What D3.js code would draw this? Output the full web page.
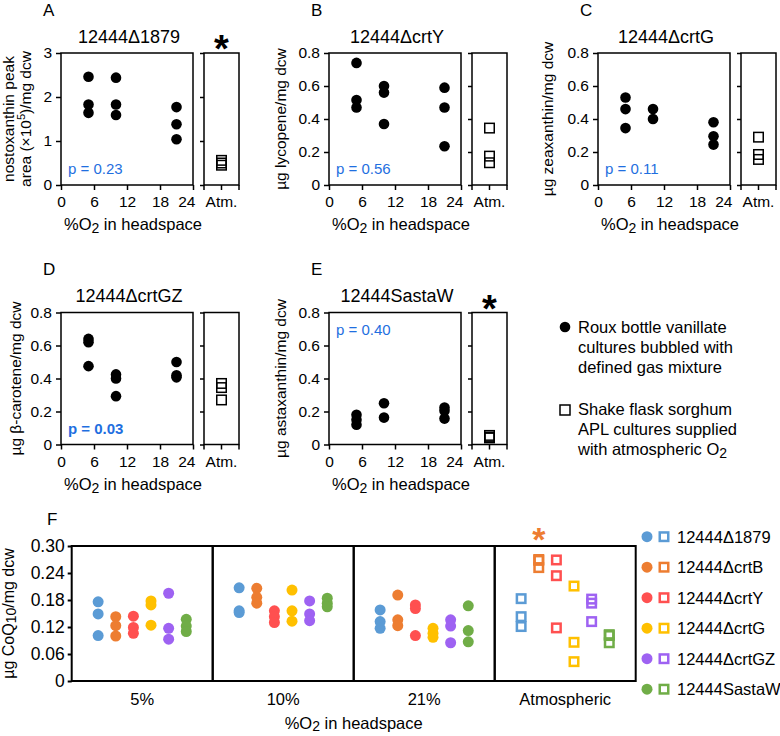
<!DOCTYPE html>
<html><head><meta charset="utf-8">
<script src="https://cdn.jsdelivr.net/npm/d3@7"></script>
<style>body{margin:0;background:#fff} svg{display:block}</style>
</head><body><svg id="c" width="780" height="736"></svg>
<script>
// ---------------- data ----------------
const o2Levels = [5, 10, 21];
const xTicks = [0, 6, 12, 18, 24];
const nostoxanthin = [[2.46, 1.83, 1.64], [2.44, 1.83, 1.59], [1.77, 1.38, 1.04]];
const nostoxanthinAtm = [0.56, 0.50, 0.45];
const lycopene = [[0.74, 0.515, 0.47], [0.60, 0.56, 0.37], [0.59, 0.47, 0.235]];
const lycopeneAtm = [0.345, 0.175, 0.135];
const zeaxanthin = [[0.53, 0.46, 0.345], [0.46, 0.40], [0.38, 0.295, 0.245]];
const zeaxanthinAtm = [0.29, 0.185, 0.155];
const betaCarotene = [[0.64, 0.62, 0.475], [0.425, 0.40, 0.293], [0.50, 0.42, 0.407]];
const betaCaroteneAtm = [0.37, 0.345, 0.27];
const astaxanthin = [[0.18, 0.15, 0.12], [0.25, 0.163], [0.224, 0.204, 0.157]];
const astaxanthinAtm = [0.055, 0.045, 0.04];
const pValues = ["p = 0.23", "p = 0.56", "p = 0.11", "p = 0.03", "p = 0.40"];
const panelTitles = ["12444Δ1879", "12444ΔcrtY", "12444ΔcrtG", "12444ΔcrtGZ", "12444SastaW"];
const panelLetters = ["A", "B", "C", "D", "E"];
const yLabels = [null, "µg lycopene/mg dcw", "µg zeaxanthin/mg dcw", "µg β-carotene/mg dcw", "µg astaxanthin/mg dcw"];

const strains = ["12444Δ1879", "12444ΔcrtB", "12444ΔcrtY", "12444ΔcrtG", "12444ΔcrtGZ", "12444SastaW"];
const fCategories = ["5%", "10%", "21%", "Atmospheric"];
const coq5 = [[0.176, 0.149, 0.101], [0.143, 0.123, 0.100], [0.144, 0.119, 0.106], [0.178, 0.169, 0.124], [0.195, 0.117, 0.093], [0.137, 0.122, 0.110]];
const coq10 = [[0.207, 0.156, 0.152], [0.206, 0.186, 0.173], [0.156, 0.143, 0.130], [0.202, 0.156, 0.133], [0.178, 0.149, 0.134], [0.184, 0.173, 0.165]];
const coq21 = [[0.158, 0.132, 0.117], [0.191, 0.136, 0.123], [0.169, 0.161, 0.101], [0.117, 0.106, 0.097], [0.136, 0.122, 0.085], [0.167, 0.112, 0.087]];
const coqAtm = [[0.183, 0.143, 0.121], [0.270, 0.268, 0.252], [0.269, 0.234, 0.118], [0.211, 0.086, 0.043], [0.182, 0.173, 0.132], [0.103, 0.101, 0.085]];
const fYTicks = [0, 0.06, 0.12, 0.18, 0.24, 0.30];

// ---------------- style ----------------
const FONT = '"Liberation Sans", Arial, Helvetica, sans-serif';
const pBlue = "#1F6FE0";
const strainColors = ["#5B9BD5", "#ED7D31", "#FF5050", "#FFC000", "#9E62F2", "#70AD47"];

const svg = d3.select("#c").attr("font-family", FONT);

const boxW = 132, boxH = 132, atmOff = 143, atmW = 35;

const panels = [
  {left: 61, top: 53, yMax: 3, yTicks: [0, 1, 2, 3], fmt: d => d3.format("d")(d), vals: nostoxanthin, atm: nostoxanthinAtm, pTop: false, pBold: false, star: true, ylabOff: 43},
  {left: 329, top: 53, yMax: 0.8, yTicks: [0, 0.2, 0.4, 0.6, 0.8], fmt: d => d === 0 ? "0" : d.toFixed(1), vals: lycopene, atm: lycopeneAtm, pTop: false, pBold: false, star: false, ylabOff: 43},
  {left: 598, top: 53, yMax: 0.8, yTicks: [0, 0.2, 0.4, 0.6, 0.8], fmt: d => d === 0 ? "0" : d.toFixed(1), vals: zeaxanthin, atm: zeaxanthinAtm, pTop: false, pBold: false, star: false, ylabOff: 45},
  {left: 61, top: 312.5, yMax: 0.8, yTicks: [0, 0.2, 0.4, 0.6, 0.8], fmt: d => d === 0 ? "0" : d.toFixed(1), vals: betaCarotene, atm: betaCaroteneAtm, pTop: false, pBold: true, star: false, ylabOff: 40},
  {left: 329, top: 312.5, yMax: 0.8, yTicks: [0, 0.2, 0.4, 0.6, 0.8], fmt: d => d === 0 ? "0" : d.toFixed(1), vals: astaxanthin, atm: astaxanthinAtm, pTop: true, pBold: false, star: true, ylabOff: 43}
];

function o2Title(sel, x, y, size, sub) {
  const t = sel.append("text").attr("x", x).attr("y", y).attr("text-anchor", "middle")
    .attr("font-size", size).attr("fill", "#000");
  t.append("tspan").text("%O");
  t.append("tspan").attr("dy", sub).attr("font-size", size * 0.85).text("2");
  t.append("tspan").attr("dy", -sub).text(" in headspace");
}

panels.forEach((cfg, k) => {
  const g = svg.append("g");
  const bottom = cfg.top + boxH;
  const x = d3.scaleLinear().domain([0, 24]).range([cfg.left, cfg.left + boxW]);
  const y = d3.scaleLinear().domain([0, cfg.yMax]).range([bottom, cfg.top]);

  // main box
  g.append("rect").attr("x", cfg.left).attr("y", cfg.top).attr("width", boxW).attr("height", boxH)
    .attr("fill", "none").attr("stroke", "#000").attr("stroke-width", 1.5);
  // y axis
  const ya = g.append("g").attr("transform", `translate(${cfg.left},0)`)
    .call(d3.axisLeft(y).tickValues(cfg.yTicks).tickFormat(cfg.fmt).tickSize(5).tickPadding(4));
  ya.attr("font-size", 15.5).attr("font-family", FONT);
  ya.select(".domain").remove();
  ya.selectAll("line").attr("stroke", "#000").attr("stroke-width", 1.5);
  ya.selectAll("text").attr("fill", "#000");
  // x axis
  const xa = g.append("g").attr("transform", `translate(0,${bottom})`)
    .call(d3.axisBottom(x).tickValues(xTicks).tickSize(5).tickPadding(6));
  xa.attr("font-size", 15.5).attr("font-family", FONT);
  xa.select(".domain").remove();
  xa.selectAll("line").attr("stroke", "#000").attr("stroke-width", 1.5);
  xa.selectAll("text").attr("fill", "#000");
  xa.selectAll(".tick").filter(d => d === 24).select("text").attr("text-anchor", "end").attr("x", 2);

  // atm box
  const aL = cfg.left + atmOff;
  const ax = d3.scaleBand().domain(["Atm."]).range([aL, aL + atmW]);
  g.append("rect").attr("x", aL).attr("y", cfg.top).attr("width", atmW).attr("height", boxH)
    .attr("fill", "none").attr("stroke", "#000").attr("stroke-width", 1.5);
  const aya = g.append("g").attr("transform", `translate(${aL},0)`)
    .call(d3.axisLeft(y).tickValues(cfg.yTicks).tickFormat("").tickSize(4));
  aya.select(".domain").remove();
  aya.selectAll("line").attr("stroke", "#000").attr("stroke-width", 1.5);
  const axa = g.append("g").attr("transform", `translate(0,${bottom})`)
    .call(d3.axisBottom(ax).tickSize(5).tickPadding(6));
  axa.attr("font-size", 15.5).attr("font-family", FONT);
  axa.select(".domain").remove();
  axa.selectAll("line").attr("stroke", "#000").attr("stroke-width", 1.5);
  axa.selectAll("text").attr("fill", "#000");
  [aL, aL + atmW].forEach(xx => g.append("line").attr("x1", xx).attr("x2", xx).attr("y1", bottom).attr("y2", bottom + 5)
    .attr("stroke", "#000").attr("stroke-width", 1.5));

  // dots
  cfg.vals.forEach((arr, i) => {
    g.selectAll(null).data(arr).enter().append("circle")
      .attr("cx", x(o2Levels[i])).attr("cy", d => y(d)).attr("r", 5.3).attr("fill", "#000");
  });
  // squares
  const sq = 9.5;
  const acx = ax("Atm.") + ax.bandwidth() / 2;
  g.selectAll(null).data(cfg.atm).enter().append("rect")
    .attr("x", acx - sq / 2).attr("y", d => y(d) - sq / 2).attr("width", sq).attr("height", sq)
    .attr("fill", "none").attr("stroke", "#000").attr("stroke-width", 1.5);

  // title, letter
  g.append("text").attr("x", cfg.left + boxW / 2 + 2).attr("y", cfg.top - 10.5).attr("text-anchor", "middle")
    .attr("font-size", 18).attr("fill", "#000").text(panelTitles[k]);
  g.append("text").attr("x", cfg.left - 18).attr("y", cfg.top - 37.5).attr("font-size", 17)
    .attr("fill", "#000").text(panelLetters[k]);
  // asterisk
  if (cfg.star) {
    g.append("text").attr("x", acx).attr("y", cfg.top - 12 + 21).attr("text-anchor", "middle")
      .attr("font-size", 38).attr("font-weight", "bold").attr("fill", "#000").text("*");
  }
  // p value
  g.append("text").attr("x", cfg.left + 7).attr("y", cfg.pTop ? cfg.top + 22 : bottom - 11)
    .attr("font-size", 15).attr("font-weight", cfg.pBold ? "bold" : "normal").attr("fill", pBlue).text(pValues[k]);
  // x title
  o2Title(g, cfg.left + 72, bottom + 45, 16.5, 3);
  // y label
  const cy = cfg.top + boxH / 2;
  if (yLabels[k]) {
    const lx = cfg.left - cfg.ylabOff;
    g.append("text").attr("transform", `translate(${lx},${cy}) rotate(-90)`).attr("text-anchor", "middle")
      .attr("font-size", 15.5).attr("fill", "#000").text(yLabels[k]);
  } else {
    const l1 = cfg.left - 47, l2 = cfg.left - 30;
    g.append("text").attr("transform", `translate(${l1},${cy}) rotate(-90)`).attr("text-anchor", "middle")
      .attr("font-size", 15.5).attr("fill", "#000").text("nostoxanthin peak");
    const t2 = g.append("text").attr("transform", `translate(${l2},${cy}) rotate(-90)`).attr("text-anchor", "middle")
      .attr("font-size", 15.5).attr("fill", "#000");
    t2.append("tspan").text("area (×10");
    t2.append("tspan").attr("dy", -6).attr("font-size", 11).text("5");
    t2.append("tspan").attr("dy", 6).text(")/mg dcw");
  }
});

// middle legend
{
  const g = svg.append("g").attr("font-size", 16.5).attr("fill", "#000");
  g.append("circle").attr("cx", 565).attr("cy", 327).attr("r", 5.3).attr("fill", "#000");
  ["Roux bottle vanillate", "cultures bubbled with", "defined gas mixture"].forEach((s, i) =>
    g.append("text").attr("x", 578).attr("y", 333 + i * 20).text(s));
  g.append("rect").attr("x", 560).attr("y", 405).attr("width", 10).attr("height", 10)
    .attr("fill", "none").attr("stroke", "#000").attr("stroke-width", 1.5);
  ["Shake flask sorghum", "APL cultures supplied"].forEach((s, i) =>
    g.append("text").attr("x", 578).attr("y", 415 + i * 20).text(s));
  const t = g.append("text").attr("x", 578).attr("y", 455);
  t.append("tspan").text("with atmospheric O");
  t.append("tspan").attr("dy", 3).attr("font-size", 14).text("2");
}

// ---------------- panel F ----------------
{
  const g = svg.append("g");
  const fLeft = 71.7, fPanelW = 141, fTop = 546, fBottom = 681;
  const fx = d3.scaleBand().domain(fCategories).range([fLeft, fLeft + 4 * fPanelW]);
  const fy = d3.scaleLinear().domain([0, 0.30]).range([fBottom, fTop]);
  const sx = d3.scalePoint().domain(strains).range([fPanelW * 1.5 / 8, fPanelW * 6.5 / 8]);
  const fData = [coq5, coq10, coq21, coqAtm];

  fCategories.forEach(c => {
    g.append("rect").attr("x", fx(c)).attr("y", fTop).attr("width", fx.bandwidth()).attr("height", fBottom - fTop)
      .attr("fill", "none").attr("stroke", "#000").attr("stroke-width", 2);
  });
  const ya = g.append("g").attr("transform", `translate(${fLeft},0)`)
    .call(d3.axisLeft(fy).tickValues(fYTicks).tickFormat(d => d === 0 ? "0" : d.toFixed(2)).tickSize(4).tickPadding(3));
  ya.attr("font-size", 17.5).attr("font-family", FONT);
  ya.select(".domain").remove();
  ya.selectAll("line").attr("stroke", "#000").attr("stroke-width", 2);
  ya.selectAll("text").attr("fill", "#000");

  const xa = g.append("g").attr("transform", `translate(0,${fBottom})`)
    .call(d3.axisBottom(fx).tickSize(0).tickPadding(12));
  xa.attr("font-size", 16.5).attr("font-family", FONT);
  xa.select(".domain").remove();
  xa.selectAll("text").attr("fill", "#000");

  fData.forEach((cat, ci) => {
    const isAtm = ci === 3;
    cat.forEach((vals, si) => {
      const cx = fx(fCategories[ci]) + sx(strains[si]);
      if (!isAtm) {
        g.selectAll(null).data(vals).enter().append("circle")
          .attr("cx", cx).attr("cy", d => fy(d)).attr("r", 5.5).attr("fill", strainColors[si]);
      } else {
        const s = 8.5;
        g.selectAll(null).data(vals).enter().append("rect")
          .attr("x", cx - s / 2).attr("y", d => fy(d) - s / 2).attr("width", s).attr("height", s)
          .attr("fill", "none").attr("stroke", strainColors[si]).attr("stroke-width", 2.5);
      }
    });
  });
  // orange asterisk over crtB atmospheric
  g.append("text").attr("x", fx("Atmospheric") + sx(strains[1])).attr("y", 551)
    .attr("text-anchor", "middle").attr("font-size", 34).attr("font-weight", "bold")
    .attr("fill", strainColors[1]).text("*");

  g.append("text").attr("x", 47).attr("y", 525).attr("font-size", 17).attr("fill", "#000").text("F");
  o2Title(g, fLeft + 2 * fPanelW, 729, 16.5, 2);
  const yl = g.append("text").attr("transform", `translate(14,${(fTop + fBottom) / 2}) rotate(-90)`)
    .attr("text-anchor", "middle").attr("font-size", 16).attr("fill", "#000");
  yl.append("tspan").text("µg CoQ");
  yl.append("tspan").attr("dy", 2).attr("font-size", 14).text("10");
  yl.append("tspan").attr("dy", -2).text("/mg dcw");

  // legend
  const lg = g.append("g").attr("font-size", 16.5).attr("fill", "#000");
  strains.forEach((s, i) => {
    const cy = 536.7 + i * 30.5;
    lg.append("circle").attr("cx", 647).attr("cy", cy).attr("r", 5.5).attr("fill", strainColors[i]);
    lg.append("rect").attr("x", 664 - 4.25).attr("y", cy - 4.25).attr("width", 8.5).attr("height", 8.5)
      .attr("fill", "none").attr("stroke", strainColors[i]).attr("stroke-width", 2.5);
    lg.append("text").attr("x", 677).attr("y", cy + 6).text(s);
  });
}
</script></body></html>
